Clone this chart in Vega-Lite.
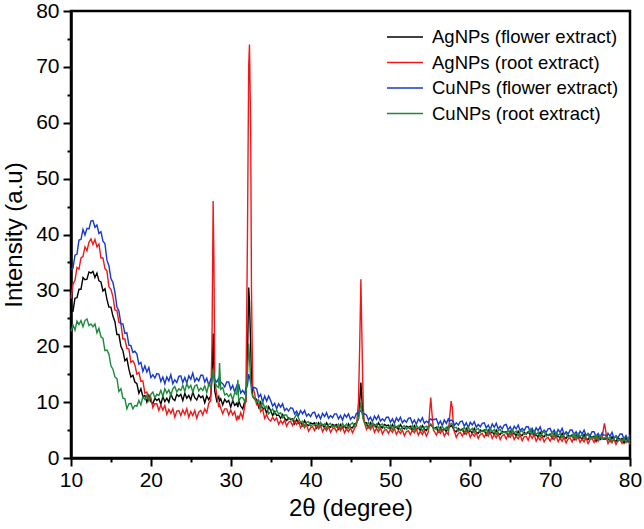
{
"$schema": "https://vega.github.io/schema/vega-lite/v6.json",
"width": 559, "height": 447,
"autosize": {"type": "none"},
"padding": {"left": 71, "top": 11, "right": 14, "bottom": 71},
"background": "white",
"config": {
"font": "Liberation Sans",
"view": {"stroke": "black", "strokeWidth": 2.5},
"axis": {"grid": false, "domainColor": "black", "domainWidth": 2.5, "tickColor": "black", "tickWidth": 2, "labelColor": "black", "titleColor": "black", "labelFont": "Liberation Sans", "titleFont": "Liberation Sans", "labelFontSize": 21, "titleFontSize": 24, "titleFontWeight": "normal"}
},
"data": {"values": [
{"x":10,"b":33.7,"r":28.5,"k":26.4,"g":22.7},
{"x":10.25,"b":34.0,"r":31.1,"k":26.3,"g":23.8},
{"x":10.5,"b":36.3,"r":31.8,"k":28.6,"g":22.9},
{"x":10.75,"b":36.5,"r":34.1,"k":28.7,"g":24.5},
{"x":11,"b":39.0,"r":33.8,"k":30.2,"g":23.9},
{"x":11.25,"b":39.1,"r":35.8,"k":30.2,"g":24.6},
{"x":11.5,"b":40.9,"r":36.1,"k":32.3,"g":23.5},
{"x":11.75,"b":39.9,"r":37.8,"k":31.9,"g":24.6},
{"x":12,"b":41.1,"r":37.1,"k":32.0,"g":24.9},
{"x":12.25,"b":41.0,"r":38.6,"k":33.3,"g":23.7},
{"x":12.5,"b":42.4,"r":39.2,"k":33.1,"g":24.0},
{"x":12.75,"b":42.5,"r":38.2,"k":33.4,"g":23.5},
{"x":13,"b":41.3,"r":39.1,"k":32.3,"g":24.0},
{"x":13.25,"b":41.7,"r":37.8,"k":33.1,"g":22.4},
{"x":13.5,"b":40.2,"r":38.3,"k":31.7,"g":23.2},
{"x":13.75,"b":40.5,"r":35.8,"k":31.5,"g":21.7},
{"x":14,"b":38.8,"r":35.8,"k":29.9,"g":21.4},
{"x":14.25,"b":38.4,"r":33.9,"k":30.3,"g":19.2},
{"x":14.5,"b":35.4,"r":33.5,"k":28.4,"g":19.3},
{"x":14.75,"b":34.4,"r":30.6,"k":27.0,"g":18.6},
{"x":15,"b":32.1,"r":30.2,"k":27.0,"g":16.5},
{"x":15.25,"b":31.4,"r":28.9,"k":25.4,"g":15.9},
{"x":15.5,"b":29.7,"r":26.5,"k":24.4,"g":14.5},
{"x":15.75,"b":27.0,"r":26.4,"k":22.1,"g":14.2},
{"x":16,"b":26.3,"r":24.3,"k":22.1,"g":11.9},
{"x":16.25,"b":24.0,"r":24.1,"k":20.0,"g":12.4},
{"x":16.5,"b":24.0,"r":21.3,"k":19.2,"g":10.7},
{"x":16.75,"b":22.3,"r":21.3,"k":17.4,"g":10.6},
{"x":17,"b":22.4,"r":19.6,"k":17.8,"g":8.8},
{"x":17.25,"b":20.2,"r":19.5,"k":15.9,"g":9.7},
{"x":17.5,"b":20.1,"r":17.1,"k":14.5,"g":9.8},
{"x":17.75,"b":18.9,"r":17.4,"k":14.8,"g":8.8},
{"x":18,"b":19.1,"r":16.7,"k":13.6,"g":9.4},
{"x":18.25,"b":18.6,"r":15.0,"k":13.3,"g":9.3},
{"x":18.5,"b":16.8,"r":15.3,"k":11.6,"g":10.3},
{"x":18.75,"b":17.1,"r":13.7,"k":12.4,"g":9.5},
{"x":19,"b":15.5,"r":13.8,"k":11.0,"g":11.0},
{"x":19.25,"b":16.5,"r":11.6,"k":11.2,"g":10.5},
{"x":19.5,"b":15.4,"r":11.8,"k":10.0,"g":11.2},
{"x":19.75,"b":16.2,"r":10.5,"k":11.2,"g":10.2},
{"x":20,"b":14.4,"r":10.8,"k":10.1,"g":11.4},
{"x":20.25,"b":14.9,"r":9.0,"k":9.7,"g":11.8},
{"x":20.5,"b":14.3,"r":9.7,"k":10.7,"g":10.8},
{"x":20.75,"b":15.1,"r":9.7,"k":10.3,"g":11.4},
{"x":21,"b":15.0,"r":8.5,"k":10.6,"g":11.2},
{"x":21.25,"b":13.7,"r":9.5,"k":9.6,"g":12.1},
{"x":21.5,"b":14.5,"r":8.6,"k":11.0,"g":11.0},
{"x":21.75,"b":13.3,"r":9.4,"k":10.1,"g":12.4},
{"x":22,"b":14.5,"r":7.8,"k":10.7,"g":11.6},
{"x":22.25,"b":13.8,"r":8.7,"k":10.0,"g":12.2},
{"x":22.5,"b":14.9,"r":8.0,"k":11.5,"g":11.2},
{"x":22.75,"b":13.3,"r":8.8,"k":10.6,"g":12.4},
{"x":23,"b":14.0,"r":7.3,"k":10.3,"g":12.8},
{"x":23.25,"b":13.5,"r":8.4,"k":11.4,"g":11.8},
{"x":23.5,"b":14.6,"r":8.5,"k":11.0,"g":12.4},
{"x":23.75,"b":14.7,"r":7.6,"k":11.4,"g":12.1},
{"x":24,"b":13.5,"r":8.6,"k":10.3,"g":13.0},
{"x":24.25,"b":14.4,"r":7.8,"k":11.6,"g":11.9},
{"x":24.5,"b":13.4,"r":8.8,"k":10.7,"g":13.3},
{"x":24.75,"b":14.7,"r":7.3,"k":11.2,"g":12.5},
{"x":25,"b":14.1,"r":8.3,"k":10.4,"g":13.0},
{"x":25.25,"b":15.2,"r":7.6,"k":11.8,"g":11.8},
{"x":25.5,"b":13.7,"r":8.5,"k":10.8,"g":12.9},
{"x":25.75,"b":14.3,"r":7.1,"k":10.4,"g":13.1},
{"x":26,"b":13.8,"r":8.2,"k":11.3,"g":12.0},
{"x":26.25,"b":14.8,"r":8.5,"k":10.8,"g":12.5},
{"x":26.5,"b":14.8,"r":7.7,"k":11.1,"g":12.1},
{"x":26.75,"b":13.6,"r":8.8,"k":9.9,"g":12.9},
{"x":27,"b":14.3,"r":8.1,"k":11.1,"g":11.7},
{"x":27.25,"b":13.0,"r":9.8,"k":10.4,"g":13.2},
{"x":27.5,"b":14.1,"r":10.3,"k":11.2,"g":12.7},
{"x":27.65,"b":14.5,"r":20,"k":14,"g":14},
{"x":27.8,"b":15.5,"r":46,"k":22.3,"g":16},
{"x":27.9,"b":14.8,"r":35,"k":16,"g":14.5},
{"x":28,"b":14.0,"r":14,"k":12,"g":13.5},
{"x":28.25,"b":13.6,"r":11.3,"k":10.2,"g":12.9},
{"x":28.5,"b":14.3,"r":9.1,"k":11.0,"g":12.6},
{"x":28.6,"b":13.2,"r":9.6,"k":10.2,"g":17.0},
{"x":28.75,"b":13.6,"r":8.9,"k":10.6,"g":12.3},
{"x":29,"b":13.3,"r":7.9,"k":9.5,"g":12.6},
{"x":29.25,"b":12.7,"r":8.8,"k":10.5,"g":11.3},
{"x":29.5,"b":13.6,"r":8.8,"k":10.0,"g":11.5},
{"x":29.75,"b":13.6,"r":7.7,"k":10.3,"g":11.0},
{"x":30,"b":12.3,"r":8.6,"k":9.1,"g":11.5},
{"x":30.25,"b":13.0,"r":7.7,"k":10.3,"g":10.4},
{"x":30.5,"b":11.8,"r":8.3,"k":9.4,"g":11.7},
{"x":30.75,"b":12.9,"r":6.7,"k":9.8,"g":11.4},
{"x":30.9,"b":12.1,"r":7.6,"k":9.1,"g":14.0},
{"x":31,"b":13.2,"r":6.9,"k":10.3,"g":10.2},
{"x":31.25,"b":11.6,"r":8.1,"k":9.3,"g":10.8},
{"x":31.5,"b":12.1,"r":7.1,"k":8.8,"g":10.8},
{"x":31.75,"b":11.5,"r":9.2,"k":10.1,"g":10.1},
{"x":31.9,"b":12.4,"r":10.4,"k":10.1,"g":11.0},
{"x":32.1,"b":13,"r":40,"k":18,"g":15},
{"x":32.25,"b":15,"r":70,"k":30.5,"g":20.5},
{"x":32.35,"b":14.5,"r":74,"k":28,"g":18},
{"x":32.5,"b":13.5,"r":59,"k":20,"g":14},
{"x":32.6,"b":13,"r":30,"k":14,"g":12},
{"x":32.75,"b":12.5,"r":13,"k":11,"g":11},
{"x":33,"b":12.6,"r":11.4,"k":10.6,"g":10.5},
{"x":33.25,"b":12.4,"r":9.5,"k":10.5,"g":9.9},
{"x":33.5,"b":10.9,"r":9.6,"k":9.1,"g":10.4},
{"x":33.75,"b":11.4,"r":8.3,"k":10.0,"g":9.0},
{"x":34,"b":10.0,"r":8.8,"k":8.7,"g":10.0},
{"x":34.25,"b":11.1,"r":7.1,"k":9.0,"g":9.0},
{"x":34.5,"b":10.2,"r":7.8,"k":8.0,"g":9.3},
{"x":34.75,"b":11.1,"r":6.9,"k":9.2,"g":7.9},
{"x":35,"b":10.3,"r":6.6,"k":8.5,"g":8.3},
{"x":35.25,"b":9.3,"r":7.3,"k":7.6,"g":8.8},
{"x":35.5,"b":9.8,"r":6.7,"k":8.3,"g":7.9},
{"x":35.75,"b":8.8,"r":7.2,"k":7.6,"g":8.6},
{"x":36,"b":9.7,"r":6.0,"k":7.7,"g":7.9},
{"x":36.25,"b":9.1,"r":6.7,"k":7.1,"g":8.1},
{"x":36.5,"b":9.7,"r":6.1,"k":7.8,"g":7.2},
{"x":36.75,"b":8.5,"r":6.8,"k":7.1,"g":7.7},
{"x":37,"b":8.9,"r":5.7,"k":6.7,"g":7.7},
{"x":37.25,"b":8.4,"r":6.4,"k":7.2,"g":6.9},
{"x":37.5,"b":9.0,"r":6.6,"k":6.9,"g":7.1},
{"x":37.75,"b":8.9,"r":5.8,"k":7.0,"g":6.7},
{"x":38,"b":7.9,"r":6.6,"k":6.1,"g":7.2},
{"x":38.25,"b":8.4,"r":6.0,"k":6.9,"g":7.9},
{"x":38.5,"b":7.6,"r":6.6,"k":6.2,"g":7.1},
{"x":38.75,"b":8.5,"r":5.4,"k":6.4,"g":6.3},
{"x":39,"b":7.9,"r":6.0,"k":5.8,"g":6.6},
{"x":39.25,"b":8.5,"r":5.4,"k":6.7,"g":5.7},
{"x":39.5,"b":7.5,"r":6.0,"k":6.0,"g":6.4},
{"x":39.75,"b":7.9,"r":4.8,"k":5.8,"g":6.5},
{"x":40,"b":7.4,"r":5.4,"k":6.3,"g":5.7},
{"x":40.25,"b":8.1,"r":5.6,"k":6.1,"g":6.0},
{"x":40.5,"b":8.2,"r":4.9,"k":6.3,"g":5.8},
{"x":40.75,"b":7.2,"r":5.7,"k":5.4,"g":6.3},
{"x":41,"b":7.8,"r":5.2,"k":6.3,"g":5.5},
{"x":41.25,"b":7.0,"r":5.8,"k":5.7,"g":6.4},
{"x":41.5,"b":8.0,"r":4.7,"k":6.0,"g":5.8},
{"x":41.75,"b":7.4,"r":5.4,"k":5.4,"g":6.1},
{"x":42,"b":8.1,"r":4.9,"k":6.3,"g":5.3},
{"x":42.25,"b":7.1,"r":5.6,"k":5.7,"g":6.0},
{"x":42.5,"b":7.6,"r":4.6,"k":5.5,"g":6.2},
{"x":42.75,"b":7.2,"r":5.2,"k":6.0,"g":5.5},
{"x":43,"b":7.9,"r":5.4,"k":5.8,"g":5.8},
{"x":43.25,"b":7.9,"r":4.7,"k":6.0,"g":5.5},
{"x":43.5,"b":7.0,"r":5.5,"k":5.2,"g":6.1},
{"x":43.75,"b":7.6,"r":4.9,"k":6.0,"g":5.3},
{"x":44,"b":6.8,"r":5.6,"k":5.4,"g":6.2},
{"x":44.25,"b":7.8,"r":4.5,"k":5.7,"g":5.6},
{"x":44.5,"b":7.3,"r":5.2,"k":5.2,"g":6.1},
{"x":44.75,"b":7.9,"r":4.7,"k":6.1,"g":5.3},
{"x":45,"b":6.9,"r":5.4,"k":5.5,"g":6.0},
{"x":45.25,"b":7.4,"r":4.5,"k":5.4,"g":6.3},
{"x":45.5,"b":7.1,"r":5.3,"k":6.1,"g":5.7},
{"x":45.75,"b":8.0,"r":5.8,"k":6.3,"g":6.3},
{"x":46,"b":8.0,"r":10,"k":7,"g":7},
{"x":46.15,"b":8.3,"r":20,"k":10,"g":8.5},
{"x":46.3,"b":8.5,"r":32,"k":13.5,"g":10},
{"x":46.45,"b":8.2,"r":20,"k":10,"g":8},
{"x":46.6,"b":7.8,"r":9,"k":7,"g":7},
{"x":46.75,"b":7.9,"r":6.3,"k":6.4,"g":6.4},
{"x":47,"b":7.7,"r":5.1,"k":6.3,"g":5.8},
{"x":47.25,"b":6.8,"r":5.7,"k":5.5,"g":6.4},
{"x":47.5,"b":7.3,"r":5.1,"k":6.3,"g":5.5},
{"x":47.75,"b":6.5,"r":5.8,"k":5.7,"g":6.4},
{"x":48,"b":7.5,"r":4.6,"k":6.0,"g":5.7},
{"x":48.25,"b":6.9,"r":5.3,"k":5.4,"g":6.1},
{"x":48.5,"b":7.6,"r":4.7,"k":6.3,"g":5.3},
{"x":48.75,"b":6.6,"r":5.4,"k":5.7,"g":5.9},
{"x":49,"b":7.0,"r":4.3,"k":5.4,"g":6.1},
{"x":49.25,"b":6.6,"r":5.0,"k":6.0,"g":5.3},
{"x":49.5,"b":7.3,"r":5.1,"k":5.8,"g":5.6},
{"x":49.75,"b":7.3,"r":4.4,"k":5.9,"g":5.3},
{"x":50,"b":6.4,"r":5.1,"k":5.1,"g":5.9},
{"x":50.25,"b":7.0,"r":4.6,"k":6.0,"g":5.1},
{"x":50.5,"b":6.2,"r":5.3,"k":5.4,"g":6.0},
{"x":50.75,"b":7.2,"r":4.2,"k":5.6,"g":5.4},
{"x":51,"b":6.6,"r":4.9,"k":5.1,"g":5.8},
{"x":51.25,"b":7.3,"r":4.4,"k":6.0,"g":5.0},
{"x":51.5,"b":6.3,"r":5.0,"k":5.4,"g":5.6},
{"x":51.75,"b":6.8,"r":4.0,"k":5.2,"g":5.8},
{"x":52,"b":6.4,"r":4.7,"k":5.7,"g":5.1},
{"x":52.25,"b":7.1,"r":4.9,"k":5.5,"g":5.4},
{"x":52.5,"b":7.2,"r":4.2,"k":5.7,"g":5.2},
{"x":52.75,"b":6.2,"r":5.0,"k":4.9,"g":5.8},
{"x":53,"b":6.8,"r":4.5,"k":5.8,"g":5.0},
{"x":53.25,"b":6.0,"r":5.2,"k":5.1,"g":5.9},
{"x":53.5,"b":7.0,"r":4.1,"k":5.4,"g":5.3},
{"x":53.75,"b":6.5,"r":4.8,"k":4.9,"g":5.7},
{"x":54,"b":7.2,"r":4.2,"k":5.8,"g":4.8},
{"x":54.25,"b":6.2,"r":4.9,"k":5.2,"g":5.5},
{"x":54.5,"b":6.6,"r":3.9,"k":4.9,"g":5.7},
{"x":54.75,"b":6.3,"r":4.7,"k":5.7,"g":5.2},
{"x":54.9,"b":6.8,"r":8,"k":5.7,"g":5.8},
{"x":55.05,"b":7.0,"r":10.8,"k":6.0,"g":6.1},
{"x":55.2,"b":6.8,"r":8,"k":5.7,"g":5.8},
{"x":55.4,"b":6.9,"r":4.9,"k":5.3,"g":5.2},
{"x":55.5,"b":6.9,"r":4.8,"k":5.3,"g":5.3},
{"x":55.75,"b":7.0,"r":4.1,"k":5.5,"g":5.1},
{"x":56,"b":6.0,"r":4.9,"k":4.7,"g":5.7},
{"x":56.25,"b":6.6,"r":4.4,"k":5.5,"g":4.9},
{"x":56.5,"b":5.8,"r":5.0,"k":4.9,"g":5.7},
{"x":56.75,"b":6.8,"r":3.9,"k":5.2,"g":5.1},
{"x":57,"b":6.2,"r":4.6,"k":4.7,"g":5.5},
{"x":57.25,"b":7.0,"r":4.2,"k":5.7,"g":4.9},
{"x":57.4,"b":6.6,"r":7,"k":5.5,"g":5.8},
{"x":57.6,"b":6.8,"r":10.2,"k":5.8,"g":6.2},
{"x":57.75,"b":6.7,"r":9,"k":5.6,"g":6.0},
{"x":57.9,"b":6.4,"r":5,"k":5.2,"g":5.5},
{"x":58,"b":5.8,"r":4.8,"k":4.9,"g":5.4},
{"x":58.25,"b":6.3,"r":3.7,"k":4.7,"g":5.5},
{"x":58.5,"b":5.9,"r":4.4,"k":5.3,"g":4.8},
{"x":58.75,"b":6.5,"r":4.6,"k":5.0,"g":5.1},
{"x":59,"b":6.6,"r":3.9,"k":5.2,"g":4.9},
{"x":59.25,"b":5.7,"r":4.7,"k":4.4,"g":5.5},
{"x":59.5,"b":6.3,"r":4.2,"k":5.3,"g":4.7},
{"x":59.75,"b":5.4,"r":4.8,"k":4.6,"g":5.5},
{"x":60,"b":6.4,"r":3.7,"k":4.9,"g":4.9},
{"x":60.25,"b":5.9,"r":4.4,"k":4.4,"g":5.3},
{"x":60.5,"b":6.5,"r":3.9,"k":5.3,"g":4.5},
{"x":60.75,"b":5.5,"r":4.5,"k":4.6,"g":5.1},
{"x":61,"b":6.0,"r":3.5,"k":4.4,"g":5.3},
{"x":61.25,"b":5.6,"r":4.2,"k":5.0,"g":4.6},
{"x":61.5,"b":6.2,"r":4.4,"k":4.8,"g":4.9},
{"x":61.75,"b":6.3,"r":3.7,"k":5.0,"g":4.7},
{"x":62,"b":5.4,"r":4.4,"k":4.1,"g":5.2},
{"x":62.25,"b":5.9,"r":3.9,"k":5.0,"g":4.4},
{"x":62.5,"b":5.1,"r":4.6,"k":4.4,"g":5.3},
{"x":62.75,"b":6.1,"r":3.5,"k":4.7,"g":4.7},
{"x":63,"b":5.5,"r":4.2,"k":4.2,"g":5.1},
{"x":63.25,"b":6.2,"r":3.6,"k":5.0,"g":4.2},
{"x":63.5,"b":5.2,"r":4.3,"k":4.4,"g":4.9},
{"x":63.75,"b":5.7,"r":3.3,"k":4.2,"g":5.1},
{"x":64,"b":5.2,"r":4.0,"k":4.8,"g":4.4},
{"x":64.25,"b":5.9,"r":4.2,"k":4.6,"g":4.7},
{"x":64.5,"b":6.0,"r":3.4,"k":4.7,"g":4.4},
{"x":64.75,"b":5.0,"r":4.2,"k":3.9,"g":5.0},
{"x":65,"b":5.6,"r":3.7,"k":4.8,"g":4.2},
{"x":65.25,"b":4.8,"r":4.4,"k":4.2,"g":5.1},
{"x":65.5,"b":5.7,"r":3.3,"k":4.5,"g":4.5},
{"x":65.75,"b":5.2,"r":3.9,"k":3.9,"g":4.8},
{"x":66,"b":5.9,"r":3.4,"k":4.8,"g":4.0},
{"x":66.25,"b":4.9,"r":4.1,"k":4.2,"g":4.7},
{"x":66.5,"b":5.3,"r":3.1,"k":4.0,"g":4.9},
{"x":66.75,"b":4.9,"r":3.8,"k":4.6,"g":4.2},
{"x":67,"b":5.6,"r":3.9,"k":4.3,"g":4.4},
{"x":67.25,"b":5.6,"r":3.2,"k":4.7,"g":4.4},
{"x":67.5,"b":4.7,"r":4.2,"k":4.1,"g":5.2},
{"x":67.75,"b":5.3,"r":3.5,"k":4.8,"g":4.2},
{"x":68,"b":4.4,"r":4.2,"k":4.0,"g":4.9},
{"x":68.25,"b":5.4,"r":3.0,"k":4.2,"g":4.2},
{"x":68.5,"b":4.9,"r":3.7,"k":3.7,"g":4.6},
{"x":68.75,"b":5.6,"r":3.2,"k":4.6,"g":3.8},
{"x":69,"b":4.5,"r":3.9,"k":4.0,"g":4.5},
{"x":69.25,"b":5.0,"r":2.9,"k":3.8,"g":4.7},
{"x":69.5,"b":4.6,"r":3.5,"k":4.3,"g":3.9},
{"x":69.75,"b":5.2,"r":3.7,"k":4.1,"g":4.2},
{"x":70,"b":5.3,"r":3.0,"k":4.3,"g":4.0},
{"x":70.25,"b":4.4,"r":3.8,"k":3.5,"g":4.6},
{"x":70.5,"b":5.0,"r":3.3,"k":4.4,"g":3.8},
{"x":70.75,"b":4.1,"r":4.0,"k":3.7,"g":4.6},
{"x":71,"b":5.1,"r":2.9,"k":4.0,"g":4.0},
{"x":71.25,"b":4.6,"r":3.6,"k":3.5,"g":4.4},
{"x":71.5,"b":5.3,"r":3.0,"k":4.4,"g":3.6},
{"x":71.75,"b":4.2,"r":3.7,"k":3.8,"g":4.3},
{"x":72,"b":4.7,"r":2.7,"k":3.5,"g":4.4},
{"x":72.25,"b":4.3,"r":3.4,"k":4.1,"g":3.7},
{"x":72.5,"b":5.0,"r":3.6,"k":3.9,"g":4.0},
{"x":72.75,"b":5.0,"r":2.9,"k":4.1,"g":3.8},
{"x":73,"b":4.1,"r":3.7,"k":3.3,"g":4.4},
{"x":73.25,"b":4.7,"r":3.2,"k":4.1,"g":3.5},
{"x":73.5,"b":3.9,"r":3.9,"k":3.5,"g":4.4},
{"x":73.75,"b":4.8,"r":2.8,"k":3.8,"g":3.8},
{"x":74,"b":4.3,"r":3.4,"k":3.3,"g":4.2},
{"x":74.25,"b":5.0,"r":2.9,"k":4.2,"g":3.4},
{"x":74.5,"b":4.0,"r":3.6,"k":3.5,"g":4.0},
{"x":74.75,"b":4.4,"r":2.6,"k":3.3,"g":4.2},
{"x":75,"b":4.0,"r":3.3,"k":3.9,"g":3.5},
{"x":75.25,"b":4.7,"r":3.5,"k":3.7,"g":3.8},
{"x":75.5,"b":4.7,"r":2.8,"k":3.9,"g":3.5},
{"x":75.75,"b":3.8,"r":3.6,"k":3.0,"g":4.1},
{"x":76,"b":4.4,"r":3.0,"k":3.9,"g":3.3},
{"x":76.25,"b":3.6,"r":3.7,"k":3.3,"g":4.1},
{"x":76.5,"b":4.5,"r":3.6,"k":3.6,"g":3.4},
{"x":76.65,"b":4.1,"r":5.0,"k":3.4,"g":3.6},
{"x":76.8,"b":4.1,"r":6.2,"k":3.4,"g":3.6},
{"x":76.95,"b":4.1,"r":5.0,"k":3.4,"g":3.6},
{"x":77.1,"b":3.7,"r":3.4,"k":3.6,"g":3.9},
{"x":77.25,"b":4.4,"r":2.6,"k":3.5,"g":3.4},
{"x":77.5,"b":3.9,"r":3.3,"k":3.0,"g":3.8},
{"x":77.75,"b":4.6,"r":2.7,"k":3.8,"g":2.9},
{"x":78,"b":3.5,"r":3.4,"k":3.2,"g":3.6},
{"x":78.25,"b":4.0,"r":2.4,"k":3.0,"g":3.8},
{"x":78.5,"b":3.6,"r":3.1,"k":3.6,"g":3.0},
{"x":78.75,"b":4.3,"r":3.3,"k":3.3,"g":3.3},
{"x":79,"b":4.3,"r":2.6,"k":3.5,"g":3.0},
{"x":79.25,"b":3.4,"r":3.4,"k":2.7,"g":3.6},
{"x":79.5,"b":4.0,"r":2.8,"k":3.6,"g":2.8},
{"x":79.75,"b":3.1,"r":3.5,"k":2.9,"g":3.6},
{"x":80,"b":4.1,"r":2.4,"k":3.2,"g":3.0}
]},
"transform": [{"fold": ["k", "r", "b", "g"], "as": ["series", "y"]}],
"mark": {"type": "line", "strokeWidth": 1.4},
"encoding": {
"x": {"field": "x", "type": "quantitative", "scale": {"domain": [10, 80], "nice": false},
"axis": {"title": "2θ (degree)", "values": [10,15,20,25,30,35,40,45,50,55,60,65,70,75,80], "labelExpr": "datum.value % 10 === 0 ? datum.label : ''", "tickSize": {"condition": {"test": "datum.value % 10 === 0", "value": 8}, "value": 4}, "labelPadding": 3, "titlePadding": 6, "labelFlush": false}},
"y": {"field": "y", "type": "quantitative", "scale": {"domain": [0, 80], "nice": false},
"axis": {"title": "Intensity (a.u)", "values": [0,5,10,15,20,25,30,35,40,45,50,55,60,65,70,75,80], "labelExpr": "datum.value % 10 === 0 ? datum.label : ''", "tickSize": {"condition": {"test": "datum.value % 10 === 0", "value": 8}, "value": 4}, "labelPadding": 4, "titlePadding": 9, "labelFlush": false}},
"color": {"field": "series", "type": "nominal",
"scale": {"domain": ["k", "r", "b", "g"], "range": ["#000000", "#f01818", "#1538d0", "#1a8a3a"]},
"legend": {"title": null, "orient": "none", "legendX": 324, "legendY": 16, "padding": 0,
"labelExpr": "datum.label === 'k' ? 'AgNPs (flower extract)' : datum.label === 'r' ? 'AgNPs (root extract)' : datum.label === 'b' ? 'CuNPs (flower extract)' : 'CuNPs (root extract)'",
"labelFont": "Liberation Sans", "labelFontSize": 18.5, "labelLimit": 400, "labelColor": "black", "symbolType": "M-2,0H2", "symbolSize": 324, "symbolStrokeWidth": 1.5, "labelOffset": 17, "rowPadding": 5.5}}
}
}
